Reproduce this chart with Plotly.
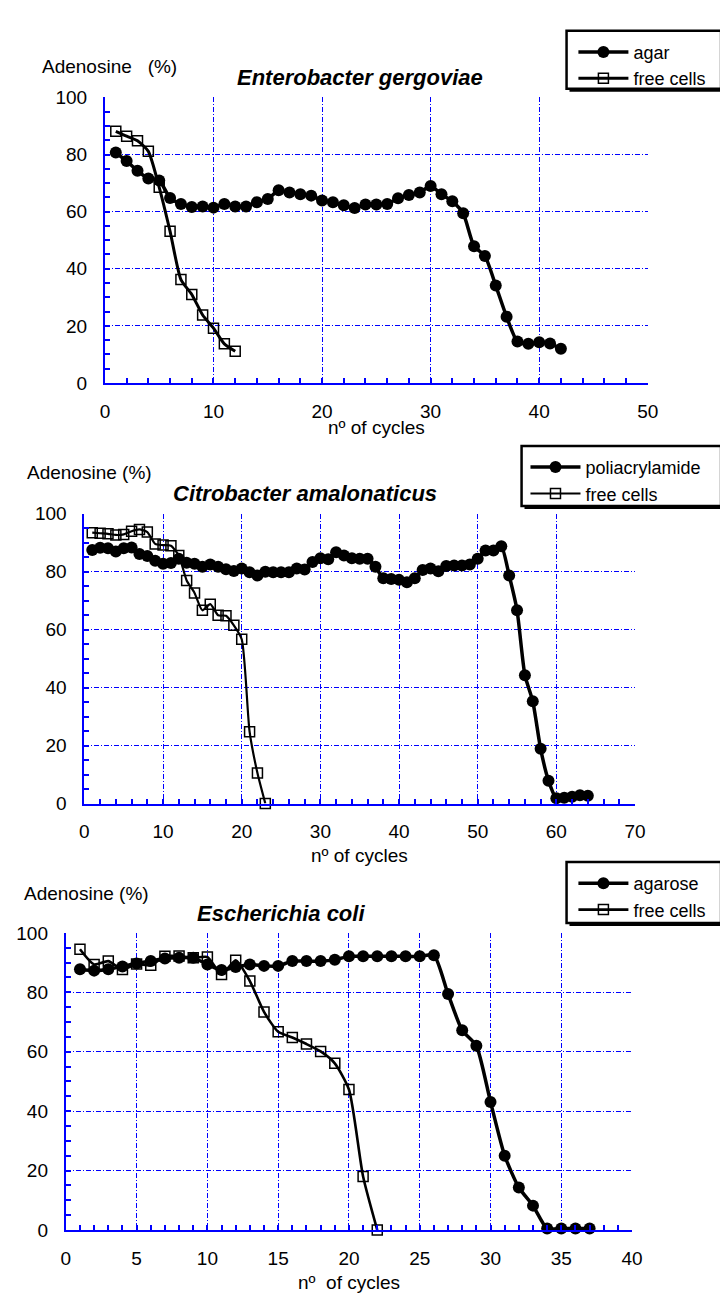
import plotly.graph_objects as go

# ---------------- data ----------------
# Panel 1: Enterobacter gergoviae
eg_agar_x = list(range(1, 43))
eg_agar_y = [80.7, 77.7, 74.3, 71.6, 70.9, 64.8, 62.7, 61.6, 61.8, 61.4,
             62.7, 61.8, 61.8, 63.3, 64.4, 67.5, 66.7, 66.1, 65.6, 63.9,
             63.3, 62.2, 61.3, 62.5, 62.5, 62.7, 64.7, 65.8, 66.7, 69.0,
             66.1, 63.6, 59.4, 47.9, 44.5, 34.1, 23.2, 14.5, 13.7, 14.3,
             13.8, 12.0]
eg_free_x = list(range(1, 13))
eg_free_y = [88.1, 86.4, 84.8, 81.1, 68.5, 53.1, 36.2, 31.0, 23.8, 19.2, 13.7, 11.1]

# Panel 2: Citrobacter amalonaticus
ca_poly_x = list(range(1, 65))
ca_poly_y = [87.5, 88.3, 88.1, 87.0, 88.1, 88.4, 86.1, 85.4, 83.8, 82.8,
             83.0, 84.5, 83.1, 82.8, 81.7, 82.5, 81.7, 80.9, 80.3, 81.1,
             79.8, 78.7, 80.0, 79.8, 79.8, 79.8, 81.1, 80.8, 83.4, 84.7,
             84.3, 86.7, 85.6, 84.7, 84.5, 84.5, 81.7, 77.8, 77.5, 77.2,
             76.4, 77.8, 80.6, 81.1, 80.2, 82.0, 82.2, 82.2, 82.5, 84.5,
             87.3, 87.3, 88.8, 78.7, 66.7, 44.3, 35.3, 18.9, 7.9, 1.8,
             2.0, 2.3, 2.9, 2.7]
ca_free_x = list(range(1, 24))
ca_free_y = [93.5, 93.3, 93.1, 92.7, 92.9, 94.0, 94.6, 93.7, 89.6, 89.2,
             89.0, 85.6, 77.0, 72.7, 66.7, 68.8, 65.0, 64.8, 61.5, 56.7,
             24.8, 10.5, 0.0]

# Panel 3: Escherichia coli
ec_agarose_x = list(range(1, 38))
ec_agarose_y = [87.8, 87.3, 87.8, 88.7, 89.7, 90.5, 91.4, 91.6, 91.6, 89.4,
                87.5, 88.5, 89.4, 88.9, 88.9, 90.5, 90.5, 90.5, 91.0, 92.1,
                92.1, 92.1, 92.1, 92.1, 92.1, 92.5, 79.4, 67.2, 62.0, 43.1,
                25.0, 14.3, 8.2, 0.5, 0.5, 0.5, 0.5]
ec_free_x = list(range(1, 23))
ec_free_y = [94.5, 89.4, 90.5, 87.7, 89.5, 89.1, 92.1, 92.2, 91.6, 91.9,
             86.0, 90.8, 83.8, 73.4, 66.7, 64.8, 62.6, 60.1, 56.1, 47.3,
             18.0, 0.0]

titles = ["Enterobacter gergoviae", "Citrobacter amalonaticus", "Escherichia coli"]
support_names = ["agar", "poliacrylamide", "agarose"]
free_name = "free cells"
ylabels = ["Adenosine\u00a0\u00a0\u00a0(%)", "Adenosine\u00a0(%)", "Adenosine\u00a0(%)"]
xlabels = ["n\u00ba of cycles", "n\u00ba of cycles", "n\u00ba\u00a0\u00a0of cycles"]
x_max = [50, 70, 40]
x_dtick = [10, 10, 5]
x_minor = [2, 2, 1]

# ---------------- layout geometry (pixels) ----------------
W, H = 728, 1293
FONT = "Liberation Sans, Arial, sans-serif"
BLUE = "#0000ff"
GRID_DASH = "5px,2px,1px,2px"

def px(x):
    return x / W

def py(y):
    return 1 - y / H

panels = [
    dict(x0=94, x1=649, y0=80.7, y1=371),
    dict(x0=73, x1=636, y0=504, y1=798.5),
    dict(x0=54, x1=633, y0=930, y1=1232),
]

fig = go.Figure()

series = [
    (eg_agar_x, eg_agar_y, eg_free_x, eg_free_y),
    (ca_poly_x, ca_poly_y, ca_free_x, ca_free_y),
    (ec_agarose_x, ec_agarose_y, ec_free_x, ec_free_y),
]
free_widths = [3, 2.2, 2.6]

for i, (sx, sy, fx, fy) in enumerate(series):
    suffix = "" if i == 0 else str(i + 1)
    leg = "legend" if i == 0 else f"legend{i + 1}"
    fig.add_trace(go.Scatter(
        x=sx, y=sy, name=support_names[i], mode="lines+markers",
        line=dict(color="black", width=3.5, shape="spline", smoothing=0.6),
        marker=dict(symbol="circle", size=12, color="black"),
        xaxis="x" + suffix, yaxis="y" + suffix, legend=leg, cliponaxis=False,
    ))
    fig.add_trace(go.Scatter(
        x=fx, y=fy, name=free_name, mode="lines+markers",
        line=dict(color="black", width=free_widths[i], shape="spline", smoothing=0.6),
        marker=dict(symbol="square-open", size=10, color="black",
                    line=dict(width=1.5, color="black")),
        xaxis="x" + suffix, yaxis="y" + suffix, legend=leg, cliponaxis=False,
    ))

layout = dict(
    width=W, height=H, autosize=False,
    margin=dict(l=0, r=0, t=0, b=0),
    paper_bgcolor="white", plot_bgcolor="white",
    font=dict(family=FONT, size=19, color="black"),
    annotations=[], shapes=[],
)

# reference legend boxes (left, top, right, bottom) in px
legend_box = [(566, 13, 724, 72), (520, 435, 724, 496), (566, 858, 724, 920)]
# first entry centre (y) and start of the sample line (x)
legend_entry = [(578, 33), (529, 455), (578, 878)]

for i, p in enumerate(panels):
    suffix = "" if i == 0 else str(i + 1)
    xa = dict(
        domain=[px(p["x0"]), px(p["x1"])], range=[0, x_max[i]],
        anchor="y" + suffix, dtick=x_dtick[i], tick0=0,
        showgrid=True, gridcolor=BLUE, griddash=GRID_DASH, gridwidth=1,
        showline=True, linecolor=BLUE, linewidth=2, zeroline=False,
        ticks="inside", ticklen=5, tickcolor=BLUE, tickwidth=1.5,
        minor=dict(dtick=x_minor[i], ticks="inside", ticklen=5,
                   tickcolor=BLUE, tickwidth=1.5, showgrid=False),
        tickfont=dict(family=FONT, size=19, color="black"),
        ticklabelstandoff=10,
        fixedrange=True,
    )
    ya = dict(
        domain=[py(p["y1"]), py(p["y0"])], range=[0, 100],
        anchor="x" + suffix, dtick=20, tick0=0,
        showgrid=True, gridcolor=BLUE, griddash=GRID_DASH, gridwidth=1,
        showline=True, linecolor=BLUE, linewidth=2, zeroline=False,
        ticks="inside", ticklen=5, tickcolor=BLUE, tickwidth=1.5,
        minor=dict(dtick=5, ticks="inside", ticklen=5,
                   tickcolor=BLUE, tickwidth=1.5, showgrid=False),
        tickfont=dict(family=FONT, size=19, color="black"),
        ticklabelstandoff=12,
        fixedrange=True,
    )
    layout["xaxis" + suffix] = xa
    layout["yaxis" + suffix] = ya

    # legend frame with drop shadow
    lx0, ly0, lx1, ly1 = legend_box[i]
    layout["shapes"].append(dict(
        type="rect", xref="paper", yref="paper",
        x0=px(lx0 + 3), x1=px(lx1 + 3), y0=py(ly1 + 3), y1=py(ly0 + 3),
        fillcolor="black", line=dict(width=0), layer="above"))
    layout["shapes"].append(dict(
        type="rect", xref="paper", yref="paper",
        x0=px(lx0), x1=px(lx1), y0=py(ly1), y1=py(ly0),
        fillcolor="white", line=dict(width=2.5, color="black"), layer="above"))

    ex, ey = legend_entry[i]
    layout["legend" if i == 0 else f"legend{i + 1}"] = dict(
        x=px(ex - 5), y=py(ey - 17), xanchor="left", yanchor="top",
        xref="paper", yref="paper",
        bgcolor="rgba(0,0,0,0)", borderwidth=0,
        font=dict(family=FONT, size=18, color="black"),
        itemwidth=50, tracegroupgap=0,
    )

# title annotations
title_pos = [(355, 60), (299, 483), (274, 910)]
ylab_pos = [(28, 49), (12, 462), (9, 890)]
xlab_y = [416, 851, 1285]
for i, p in enumerate(panels):
    tx, ty = title_pos[i]
    layout["annotations"].append(dict(
        text=f"<b><i>{titles[i]}</i></b>", x=px(tx), y=py(ty),
        xref="paper", yref="paper", xanchor="center", yanchor="middle",
        showarrow=False, font=dict(family=FONT, size=22, color="black")))
    lx, ly = ylab_pos[i]
    layout["annotations"].append(dict(
        text=ylabels[i], x=px(lx), y=py(ly), xref="paper", yref="paper",
        xanchor="left", yanchor="middle", showarrow=False,
        font=dict(family=FONT, size=19, color="black")))
    layout["annotations"].append(dict(
        text=xlabels[i], x=px((p["x0"] + p["x1"]) / 2), y=py(xlab_y[i]),
        xref="paper", yref="paper", xanchor="center", yanchor="middle",
        showarrow=False, font=dict(family=FONT, size=19, color="black")))

fig.update_layout(**layout)
fig.write_html("out.html")
